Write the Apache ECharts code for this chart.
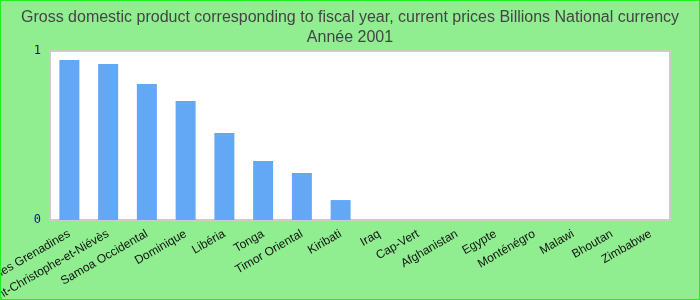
<!DOCTYPE html>
<html>
<head>
<meta charset="utf-8">
<script src="https://cdn.jsdelivr.net/npm/echarts@6/dist/echarts.min.js"></script>
<style>
  html, body { margin: 0; padding: 0; background: #90ee90; }
  #chart { width: 700px; height: 300px; box-sizing: border-box; border: 1px solid #22ee22; }
</style>
</head>
<body>
<div id="chart"></div>
<script>
    var countries = ['Saint-Vincent-et-les Grenadines', 'Saint-Christophe-et-Niévès', 'Samoa Occidental', 'Dominique',
        'Libéria', 'Tonga', 'Timor Oriental', 'Kiribati', 'Iraq', 'Cap-Vert', 'Afghanistan', 'Egypte',
        'Monténégro', 'Malawi', 'Bhoutan', 'Zimbabwe'];
    var gdp = [0.947, 0.923, 0.805, 0.704, 0.515, 0.349, 0.278, 0.118, 0, 0, 0, 0, 0, 0, 0, 0];
    var yTicks = [0, 1];

    var myChart = echarts.init(document.getElementById('chart'));
    var option = {
        backgroundColor: '#90ee90',
        title: {
            text: 'Gross domestic product corresponding to fiscal year, current prices Billions National currency\nAnnée 2001',
            left: 'center',
            top: 2,
            textStyle: {
                fontFamily: 'Liberation Sans',
                fontSize: 16,
                fontWeight: 'normal',
                color: '#444',
                lineHeight: 20
            }
        },
        grid: {
            left: 49,
            right: 29,
            top: 50,
            bottom: 79,
            containLabel: false,
            outerBoundsMode: 'none',
            show: true,
            backgroundColor: '#fff',
            borderColor: '#ccc',
            borderWidth: 2
        },
        xAxis: {
            type: 'category',
            data: countries,
            axisLine: {show: false},
            axisTick: {show: false},
            axisLabel: {
                interval: 0,
                rotate: 30,
                margin: 13,
                fontFamily: 'Liberation Sans',
                fontSize: 12,
                color: '#111'
            }
        },
        yAxis: {
            type: 'value',
            min: yTicks[0],
            max: yTicks[1],
            interval: 1,
            splitLine: {show: false},
            axisLine: {show: false},
            axisTick: {show: false},
            axisLabel: {
                fontFamily: 'DejaVu Sans Mono',
                fontSize: 12,
                color: '#1010a0',
                margin: 9
            }
        },
        series: [{
            type: 'bar',
            data: gdp,
            barWidth: 20,
            itemStyle: {color: '#62a8f5'}
        }]
    };
    myChart.setOption(option);
</script>
</body>
</html>
